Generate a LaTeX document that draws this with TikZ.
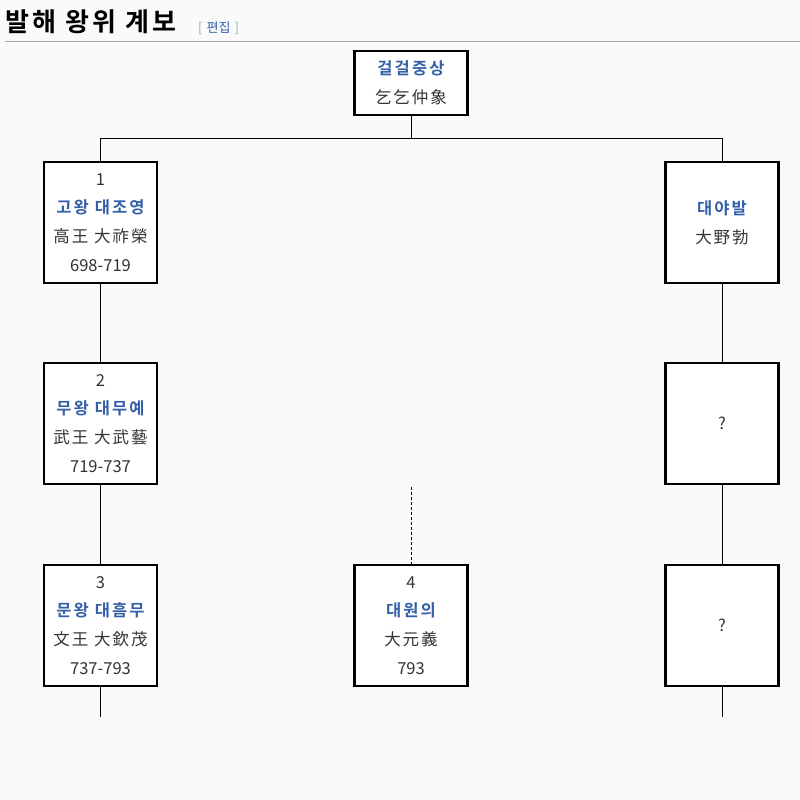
\documentclass[tikz,border=0pt]{standalone}
\usepackage{fontspec}
\setmainfont{Noto Sans CJK KR}[BoldFont={Noto Sans CJK KR Bold}]
\definecolor{namecol}{HTML}{3560A8}
\definecolor{txtcol}{HTML}{333333}
\definecolor{rulecol}{HTML}{A2A9B1}
\definecolor{bgcol}{HTML}{FAFAFA}
\tikzset{
  person/.style={draw=black, line width=2.6pt, fill=white, rectangle,
    minimum width=113pt, minimum height=121pt, inner sep=0pt, align=center,
    text=txtcol, font=\fontsize{16.5}{28.8}\selectfont},
  rootbox/.style={person, minimum height=64pt},
  link/.style={draw=black, line width=1pt},
  dlink/.style={link, dashed, dash pattern=on 3pt off 2pt}
}
\newcommand{\nm}[1]{{\color{namecol}\bfseries\addfontfeature{LetterSpace=13}#1}}
\newcommand{\hz}[1]{{\addfontfeature{LetterSpace=12}#1}}
\begin{document}
\begin{tikzpicture}[x=1pt,y=-1pt]
\useasboundingbox (0,0) rectangle (800,800);
\fill[bgcol] (0,0) rectangle (800,800);
% title
\node[anchor=base west, inner sep=0pt, font=\fontsize{26}{30}\selectfont\bfseries\addfontfeature{LetterSpace=12}, text=black] (title) at (5,32) {발해 왕위 계보};
\node[anchor=base west, inner sep=0pt, font=\fontsize{13}{15}\selectfont, text=rulecol] (edit) at (198,33) {[\hspace{4pt}{\color{namecol}편집}\hspace{4pt}]};
\draw[rulecol, line width=1pt] (5,42) -- (800,42);
% nodes
\node[rootbox] (root) at (411,83) {\nm{걸걸중상}\\\hz{乞乞仲象}};
\node[person] (n1) at (100.5,222.5) {1\\\nm{고왕 대조영}\\\hz{高王 大祚榮}\\698-719};
\node[person] (r1) at (722,222.5) {\nm{대야발}\\\hz{大野勃}};
\node[person] (n2) at (100.5,423.5) {2\\\nm{무왕 대무예}\\\hz{武王 大武藝}\\719-737};
\node[person] (r2) at (722,423.5) {?};
\node[person] (n3) at (100.5,625.5) {3\\\nm{문왕 대흠무}\\\hz{文王 大欽茂}\\737-793};
\node[person] (n4) at (411,625.5) {4\\\nm{대원의}\\\hz{大元義}\\793};
\node[person] (r3) at (722,625.5) {?};
% coordinates
\coordinate (j) at (411,138);
\coordinate (d4) at (411,487);
\coordinate (e3) at (100.5,717);
\coordinate (er3) at (722,717);
% connectors
\draw[link] (root.south) -- (j);
\draw[link] (n1.north) |- (j);
\draw[link] (j) -| (r1.north);
\draw[link] (n1.south) -- (n2.north);
\draw[link] (n2.south) -- (n3.north);
\draw[link] (r1.south) -- (r2.north);
\draw[link] (r2.south) -- (r3.north);
\draw[dlink] (d4) -- (n4.north);
\draw[link] (n3.south) -- (e3);
\draw[link] (r3.south) -- (er3);
\end{tikzpicture}
\end{document}
